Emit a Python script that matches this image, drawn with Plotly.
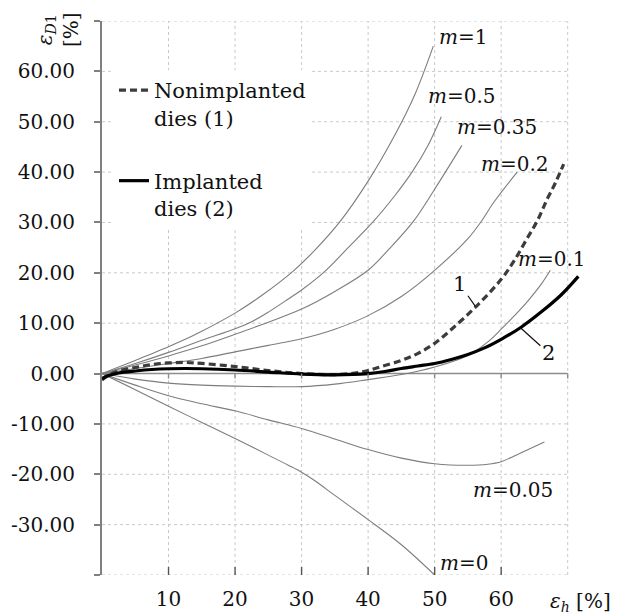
import plotly.graph_objects as go

# ---------------- data ----------------
m1_x = [0, 5, 10, 12.5, 15, 20, 24, 28.7, 32, 35.8, 40, 44, 47, 49.8]
m1_y = [0, 2.6, 5.3, 6.8, 8.4, 12.0, 15.5, 20.3, 24.5, 30.2, 38.2, 47.3, 55.3, 65.0]

m05_x = [0, 5, 10, 15, 20, 22.5, 25, 28, 30, 33.5, 37, 40.8, 44, 46.7, 49, 51]
m05_y = [0, 2.0, 4.2, 6.6, 8.9, 10.3, 12.2, 14.8, 16.6, 20.3, 25.0, 30.2, 35.3, 40.2, 45.3, 51.0]

m035_x = [0, 5, 10, 15, 20, 25, 30, 35, 40, 43, 46.8, 50, 54.1]
m035_y = [0, 1.7, 3.5, 5.5, 7.8, 10.2, 12.8, 16.3, 20.5, 24.5, 30.2, 36.6, 45.3]

m02_x = [0, 5, 10, 15, 20, 25, 30, 35, 40, 45, 50, 55, 57, 59, 62.4]
m02_y = [0, 1.0, 2.0, 3.0, 4.3, 5.6, 6.9, 8.8, 11.5, 15.3, 20.5, 26.8, 30.2, 34.2, 40.0]

m01_x = [0, 5, 10, 15, 20, 25, 30, 35, 40, 45, 50, 55, 58, 60, 62, 64, 66, 67.4]
m01_y = [0, -1.1, -1.9, -2.3, -2.5, -2.6, -2.6, -2.1, -1.2, -0.2, 1.3, 3.6, 6.3, 8.8, 11.5, 14.4, 17.7, 20.5]

m005_x = [0, 5, 10, 15, 20, 25, 30, 35, 40, 45, 50, 55, 58, 60, 62.4, 66.5]
m005_y = [0, -2.3, -4.4, -6.0, -7.4, -9.2, -10.9, -13.0, -15.1, -16.8, -17.9, -18.2, -18.0, -17.5, -16.1, -13.6]

m0_x = [0, 5, 10, 15, 20, 25, 28, 30, 32, 35, 40, 45, 50]
m0_y = [0, -3.2, -6.5, -9.7, -12.9, -16.2, -18.2, -19.6, -21.3, -24.2, -29.0, -34.0, -40.0]

non_x = [0, 1, 2.5, 5, 7.5, 10, 12.5, 15, 20, 25, 30, 35, 38, 40, 42, 45, 47.5, 50,
         52.8, 56.3, 60, 62, 63.8, 65.5, 66.9, 68.2, 69.4]
non_y = [-1.3, -0.3, 0.5, 1.2, 1.8, 2.1, 2.2, 2.0, 1.4, 0.6, 0.0, -0.2, 0.1, 0.6, 1.4, 2.6, 4.0, 6.0,
         9.1, 13.4, 18.7, 22.5, 26.6, 30.5, 34.6, 38.0, 41.6]

imp_x = [0, 1, 2.5, 5, 7.5, 10, 12.5, 15, 20, 25, 30, 35, 40, 42.5, 45, 47.5, 50,
         52.5, 55, 57.5, 60, 63, 66, 69, 71.6]
imp_y = [-1.0, -0.4, 0.1, 0.5, 0.8, 0.95, 1.0, 0.95, 0.7, 0.3, -0.1, -0.25, 0.0, 0.4, 1.0, 1.5, 2.0,
         2.8, 3.8, 5.1, 6.8, 9.2, 12.2, 15.6, 19.3]

m_labels = ["<i>m</i>=1", "<i>m</i>=0.5", "<i>m</i>=0.35", "<i>m</i>=0.2",
            "<i>m</i>=0.1", "<i>m</i>=0.05", "<i>m</i>=0"]
m_label_x = [50.3, 48.7, 53.0, 56.6, 62.2, 55.4, 50.5]
m_label_y = [66.8, 55.1, 48.9, 41.7, 22.7, -23.1, -37.6]

x_tickvals = [10, 20, 30, 40, 50, 60]
y_tickvals = [-40, -30, -20, -10, 0, 10, 20, 30, 40, 50, 60, 70]
y_ticktext = ["" if v in (-40, 70) else f"{v:.2f}" for v in y_tickvals]
grid_x = [10, 20, 30, 40, 50, 60, 70]
grid_y = [-40, -30, -20, -10, 10, 20, 30, 40, 50, 60, 70]

# ---------------- figure ----------------
FONT = "DejaVu Serif"
THIN = "#7d7d7d"

fig = go.Figure()

for xs, ys in [(m1_x, m1_y), (m05_x, m05_y), (m035_x, m035_y), (m02_x, m02_y),
               (m01_x, m01_y), (m005_x, m005_y), (m0_x, m0_y)]:
    fig.add_trace(go.Scatter(x=xs, y=ys, mode="lines", showlegend=False,
                             line=dict(color=THIN, width=1.1, shape="spline", smoothing=1.0),
                             hoverinfo="skip"))

fig.add_trace(go.Scatter(x=non_x, y=non_y, mode="lines", name="Nonimplanted<br>dies (1)",
                         legendgroup="a",
                         line=dict(color="#3c3c3c", width=3.2, dash="7px,4px",
                                   shape="spline", smoothing=1.0)))
fig.add_trace(go.Scatter(x=imp_x, y=imp_y, mode="lines", name="Implanted<br>dies (2)",
                         legendgroup="b",
                         line=dict(color="#000000", width=3.2, shape="spline", smoothing=1.0)))

shapes = []
for gx in grid_x:
    shapes.append(dict(type="line", xref="x", yref="y", x0=gx, x1=gx, y0=-40, y1=70,
                       layer="below", line=dict(color="#c9c9c9", width=1, dash="3px,3px")))
for gy in grid_y:
    shapes.append(dict(type="line", xref="x", yref="y", x0=0, x1=70, y0=gy, y1=gy,
                       layer="below", line=dict(color="#c9c9c9", width=1, dash="3px,3px")))
shapes.append(dict(type="line", xref="x", yref="y", x0=0, x1=70, y0=0, y1=0,
                   layer="below", line=dict(color="#8c8c8c", width=1.6)))
for gx in grid_x:
    shapes.append(dict(type="line", xref="x", yref="y", ysizemode="pixel", yanchor=0,
                       x0=gx, x1=gx, y0=-5, y1=0, line=dict(color="#8c8c8c", width=1.4)))
for gx in x_tickvals:
    shapes.append(dict(type="line", xref="x", yref="y", ysizemode="pixel", yanchor=-40,
                       x0=gx, x1=gx, y0=-7, y1=8, line=dict(color="#555555", width=1.4)))

annotations = []
for t, ax_, ay_ in zip(m_labels, m_label_x, m_label_y):
    annotations.append(dict(x=ax_, y=ay_, xref="x", yref="y", text=t, showarrow=False,
                            xanchor="left", yanchor="middle",
                            font=dict(family=FONT, size=20, color="#111")))
annotations.append(dict(x=56.1, y=13.4, xref="x", yref="y", ax=53.8, ay=17.7,
                        axref="x", ayref="y", text="1", showarrow=True, arrowhead=0,
                        arrowwidth=1.2, arrowcolor="#111", standoff=0,
                        font=dict(family=FONT, size=21, color="#111")))
annotations.append(dict(x=62.9, y=9.1, xref="x", yref="y", ax=67.1, ay=4.1,
                        axref="x", ayref="y", text="2", showarrow=True, arrowhead=0,
                        arrowwidth=1.2, arrowcolor="#111", standoff=0,
                        font=dict(family=FONT, size=21, color="#111")))
annotations.append(dict(x=0, y=1, xref="paper", yref="paper", xshift=-44, yshift=-9,
                        text="<i>ε</i><sub><i>D</i>1</sub><br>[%]", textangle=-90,
                        showarrow=False, xanchor="center", yanchor="middle",
                        font=dict(family=FONT, size=20, color="#111")))
annotations.append(dict(x=1, y=0, xref="paper", yref="paper", yshift=-27, xshift=-1,
                        text="<i>ε<sub>h</sub></i> [%]", showarrow=False,
                        xanchor="center", yanchor="middle",
                        font=dict(family=FONT, size=20, color="#111")))

# the page body adds an 8px offset, so the figure is sized to fit the window
fig.update_layout(
    width=614, height=607,
    margin=dict(l=94, r=41, t=13, b=40, autoexpand=False),
    paper_bgcolor="white", plot_bgcolor="white",
    font=dict(family=FONT, size=20, color="#111"),
    shapes=shapes, annotations=annotations,
    showlegend=True,
    legend=dict(x=0.025, y=0.9117, xanchor="left", yanchor="top",
                bgcolor="white", borderwidth=0, tracegroupgap=33,
                valign="top", font=dict(family=FONT, size=21, color="#111")),
    xaxis=dict(range=[0, 72], showgrid=False, zeroline=False, showline=False,
               automargin=False,
               tickvals=x_tickvals, ticks="", ticklabelstandoff=10,
               tickfont=dict(family=FONT, size=20, color="#111")),
    yaxis=dict(range=[-40, 70], showgrid=False, zeroline=False, showline=True,
               automargin=False, linecolor="#808080", linewidth=2,
               tickvals=y_tickvals, ticktext=y_ticktext, ticks="outside",
               ticklen=6, tickcolor="#808080", tickwidth=1.5, ticklabelstandoff=15,
               tickfont=dict(family=FONT, size=20, color="#111")),
)

fig.write_html("out.html")
